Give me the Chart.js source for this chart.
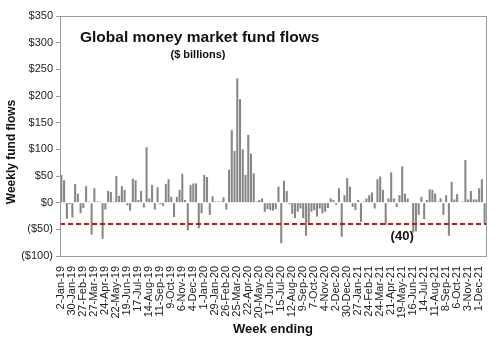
<!DOCTYPE html>
<html>
<head>
<meta charset="utf-8">
<script src="https://cdn.jsdelivr.net/npm/chart.js@4"></script>
<style>
  html, body { margin: 0; padding: 0; background: #fff; }
  canvas { display: block; }
</style>
</head>
<body>
<canvas id="chart" width="500" height="341"></canvas>
<script>
// Semanas (quarta-feira) a partir de 2-Jan-19
const primeiraSemana = '2019-01-02';
const meses = ['Jan', 'Feb', 'Mar', 'Apr', 'May', 'Jun', 'Jul', 'Aug', 'Sep', 'Oct', 'Nov', 'Dec'];

// Fluxos semanais ($ bilhões)
const fluxos = [
  52, 42, -30, -3, -28, 35, 17, -20, -10, 31, 2, -60,
  27, 2, 2, -68, -13, 22, 20, 2, 50, 13, 31, 24,
  -5, -15, 45, 42, 5, 22, -9, 104, 8, 33, -13, 29,
  -3, -6, 35, 44, 11, -27, 11, 24, 54, 5, -52, 33,
  36, 36, -48, -20, 52, 48, -23, 12, 2, 2, 2, 10,
  -13, 62, 136, 97, 233, 194, 100, 52, 127, 92, 55, 2,
  5, 8, -17, -12, -14, -15, -12, 30, -76, 41, 22, -3,
  -21, -29, -17, -11, -29, -62, -39, -17, -14, -26, -11, -20,
  -17, -10, 8, 5, -4, 27, -64, 14, 46, 30, -8, -14,
  5, -36, 2, 8, 14, 19, -11, 44, 49, 24, -42, 8,
  57, 8, -8, 14, 68, 17, 8, 0, -56, -54, -23, 11,
  -31, 5, 25, 24, 17, 2, 8, -23, 14, -62, 39, 6,
  16, -1, 2, 80, 6, 22, 6, 6, 27, 44, -39
];

// Linha de referência
const limite = -40;
const limiteTexto = '(40)';
const limiteTextoSemana = 124;

const titulo = 'Global money market fund flows';
const subtitulo = '($ billions)';
const tituloEixoY = 'Weekly fund flows';

function geraSemanas(inicio, n) {
  const base = new Date(inicio + 'T00:00:00Z');
  const lista = [];
  for (let i = 0; i < n; i++) {
    const d = new Date(base.getTime() + i * 7 * 86400000);
    lista.push(d.getUTCDate() + '-' + meses[d.getUTCMonth()] + '-' + String(d.getUTCFullYear()).slice(2));
  }
  return lista;
}
const semanas = geraSemanas(primeiraSemana, fluxos.length);

const fonte = 'Arial, "Liberation Sans", sans-serif';

// Moldura, linha tracejada e títulos
const extras = {
  id: 'extras',
  afterDatasetsDraw(chart) {
    const { ctx, chartArea: a, scales } = chart;
    const y = scales.y.getPixelForValue(limite);
    ctx.save();
    ctx.strokeStyle = '#d01010';
    ctx.lineWidth = 2;
    ctx.setLineDash([5, 3]);
    ctx.beginPath();
    ctx.moveTo(a.left, y);
    ctx.lineTo(a.right, y);
    ctx.stroke();
    ctx.setLineDash([]);

    ctx.fillStyle = '#111';
    ctx.font = 'bold 13px ' + fonte;
    ctx.textAlign = 'center';
    ctx.textBaseline = 'middle';
    ctx.fillText(limiteTexto, scales.x.getPixelForValue(limiteTextoSemana), scales.y.getPixelForValue(-64));

    ctx.textAlign = 'left';
    ctx.font = 'bold 15.5px ' + fonte;
    ctx.fillText(titulo, a.left + 20, 38);
    ctx.textAlign = 'center';
    ctx.font = 'bold 11px ' + fonte;
    ctx.fillText(subtitulo, 198, 55);

    // título do eixo Y
    ctx.save();
    ctx.translate(12, 152);
    ctx.rotate(-Math.PI / 2);
    ctx.font = 'bold 12px ' + fonte;
    ctx.fillText(tituloEixoY, 0, 0);
    ctx.restore();

    ctx.strokeStyle = '#9a9a9a';
    ctx.lineWidth = 1;
    ctx.strokeRect(a.left + 0.5, a.top + 0.5, a.right - a.left, a.bottom - a.top);
    ctx.restore();
  }
};

window.onload = () => {
  const ctx = document.getElementById('chart').getContext('2d');
  new Chart(ctx, {
    type: 'bar',
    data: {
      labels: semanas,
      datasets: [{
        data: fluxos,
        backgroundColor: '#868686',
        barPercentage: 0.75,
        categoryPercentage: 1
      }]
    },
    options: {
      responsive: false,
      animation: false,
      layout: { padding: { top: 16, right: 14, left: 0, bottom: 0 } },
      plugins: { legend: { display: false }, tooltip: { enabled: false } },
      scales: {
        x: {
          grid: { display: false },
          border: { display: true, color: '#9a9a9a' },
          ticks: {
            autoSkip: false,
            minRotation: 90,
            maxRotation: 90,
            padding: 2,
            color: '#222',
            font: { family: fonte, size: 11 },
            callback(v, i) { return i % 4 === 0 ? this.getLabelForValue(v) : ''; }
          },
          title: {
            display: true,
            text: 'Week ending',
            color: '#111',
            font: { family: fonte, size: 13, weight: 'bold' },
            padding: { top: 0, bottom: 4 }
          },
          afterFit(s) { s.height = 85; }
        },
        y: {
          min: -100,
          max: 350,
          grid: { drawOnChartArea: false, drawTicks: true, tickLength: 4, color: '#9a9a9a' },
          border: { display: true, color: '#9a9a9a' },
          ticks: {
            stepSize: 50,
            padding: 3,
            color: '#222',
            font: { family: fonte, size: 11 },
            callback: (v) => (v < 0 ? '($' + (-v) + ')' : '$' + v)
          },
          afterFit(s) { s.width = 60; }
        }
      }
    },
    plugins: [extras]
  });
};
</script>
</body>
</html>
